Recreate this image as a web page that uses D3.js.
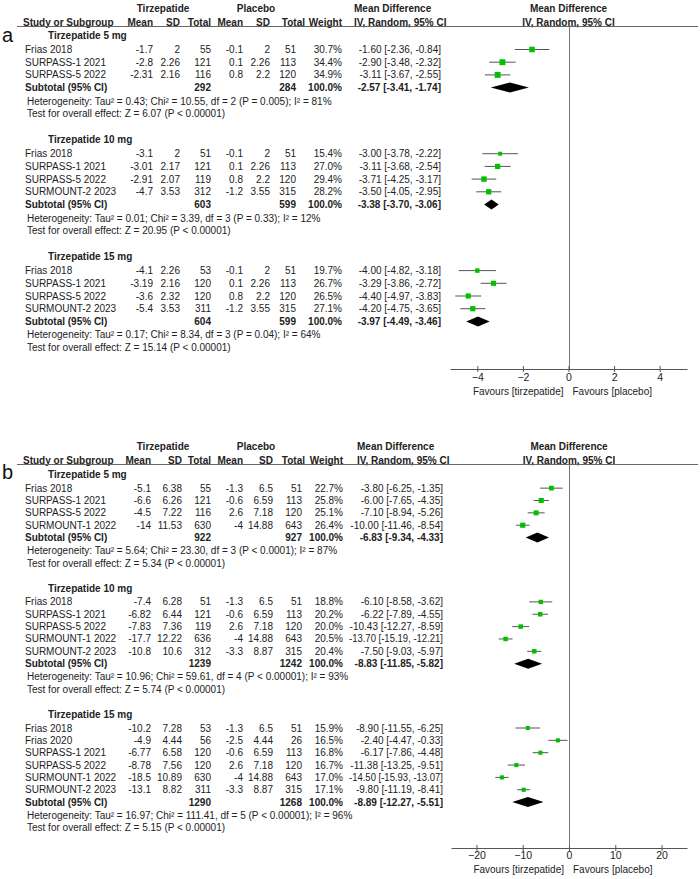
<!DOCTYPE html>
<html lang="en">
<head>
<meta charset="utf-8">
<style>
  body { margin: 0; background: #fff; }
  svg { display: block; font-family: "Liberation Sans", Arial, sans-serif; }
</style>
</head>
<body>
<div id="chart"></div>
<script src="https://cdn.jsdelivr.net/npm/d3@7/dist/d3.min.js"></script>
<script>
// ---- panel a ----
var groupsA = ['Tirzepatide 5 mg', 'Tirzepatide 10 mg', 'Tirzepatide 15 mg'];
var studyA = ['Frias 2018', 'SURPASS-1 2021', 'SURPASS-5 2022',
  'Frias 2018', 'SURPASS-1 2021', 'SURPASS-5 2022', 'SURMOUNT-2 2023',
  'Frias 2018', 'SURPASS-1 2021', 'SURPASS-5 2022', 'SURMOUNT-2 2023'];
var groupA = [0, 0, 0, 1, 1, 1, 1, 2, 2, 2, 2];
var tMeanA = [-1.7, -2.8, -2.31, -3.1, -3.01, -2.91, -4.7, -4.1, -3.19, -3.6, -5.4];
var tSdA = [2, 2.26, 2.16, 2, 2.17, 2.07, 3.53, 2.26, 2.16, 2.32, 3.53];
var tNA = [55, 121, 116, 51, 121, 119, 312, 53, 120, 120, 311];
var pMeanA = [-0.1, 0.1, 0.8, -0.1, 0.1, 0.8, -1.2, -0.1, 0.1, 0.8, -1.2];
var pSdA = [2, 2.26, 2.2, 2, 2.26, 2.2, 3.55, 2, 2.26, 2.2, 3.55];
var pNA = [51, 113, 120, 51, 113, 120, 315, 51, 113, 120, 315];
var weightA = [30.7, 34.4, 34.9, 15.4, 27.0, 29.4, 28.2, 19.7, 26.7, 26.5, 27.1];
var mdA = [-1.60, -2.90, -3.11, -3.00, -3.11, -3.71, -3.50, -4.00, -3.29, -4.40, -4.20];
var loA = [-2.36, -3.48, -3.67, -3.78, -3.68, -4.25, -4.05, -4.82, -3.86, -4.97, -4.75];
var hiA = [-0.84, -2.32, -2.55, -2.22, -2.54, -3.17, -2.95, -3.18, -2.72, -3.83, -3.65];
var subTNA = [292, 603, 604];
var subPNA = [284, 599, 599];
var subMdA = [-2.57, -3.38, -3.97];
var subLoA = [-3.41, -3.70, -4.49];
var subHiA = [-1.74, -3.06, -3.46];
var hetA = ['Heterogeneity: Tau² = 0.43; Chi² = 10.55, df = 2 (P = 0.005); I² = 81%',
  'Heterogeneity: Tau² = 0.01; Chi² = 3.39, df = 3 (P = 0.33); I² = 12%',
  'Heterogeneity: Tau² = 0.17; Chi² = 8.34, df = 3 (P = 0.04); I² = 64%'];
var testA = ['Test for overall effect: Z = 6.07 (P < 0.00001)',
  'Test for overall effect: Z = 20.95 (P < 0.00001)',
  'Test for overall effect: Z = 15.14 (P < 0.00001)'];
var ticksA = [-4, -2, 0, 2, 4];

// ---- panel b ----
var groupsB = ['Tirzepatide 5 mg', 'Tirzepatide 10 mg', 'Tirzepatide 15 mg'];
var studyB = ['Frias 2018', 'SURPASS-1 2021', 'SURPASS-5 2022', 'SURMOUNT-1 2022',
  'Frias 2018', 'SURPASS-1 2021', 'SURPASS-5 2022', 'SURMOUNT-1 2022', 'SURMOUNT-2 2023',
  'Frias 2018', 'Frias 2020', 'SURPASS-1 2021', 'SURPASS-5 2022', 'SURMOUNT-1 2022', 'SURMOUNT-2 2023'];
var groupB = [0, 0, 0, 0, 1, 1, 1, 1, 1, 2, 2, 2, 2, 2, 2];
var tMeanB = [-5.1, -6.6, -4.5, -14, -7.4, -6.82, -7.83, -17.7, -10.8, -10.2, -4.9, -6.77, -8.78, -18.5, -13.1];
var tSdB = [6.38, 6.26, 7.22, 11.53, 6.28, 6.44, 7.36, 12.22, 10.6, 7.28, 4.44, 6.58, 7.56, 10.89, 8.82];
var tNB = [55, 121, 116, 630, 51, 121, 119, 636, 312, 53, 56, 120, 120, 630, 311];
var pMeanB = [-1.3, -0.6, 2.6, -4, -1.3, -0.6, 2.6, -4, -3.3, -1.3, -2.5, -0.6, 2.6, -4, -3.3];
var pSdB = [6.5, 6.59, 7.18, 14.88, 6.5, 6.59, 7.18, 14.88, 8.87, 6.5, 4.44, 6.59, 7.18, 14.88, 8.87];
var pNB = [51, 113, 120, 643, 51, 113, 120, 643, 315, 51, 26, 113, 120, 643, 315];
var weightB = [22.7, 25.8, 25.1, 26.4, 18.8, 20.2, 20.0, 20.5, 20.4, 15.9, 16.5, 16.8, 16.7, 17.0, 17.1];
var mdB = [-3.80, -6.00, -7.10, -10.00, -6.10, -6.22, -10.43, -13.70, -7.50, -8.90, -2.40, -6.17, -11.38, -14.50, -9.80];
var loB = [-6.25, -7.65, -8.94, -11.46, -8.58, -7.89, -12.27, -15.19, -9.03, -11.55, -4.47, -7.86, -13.25, -15.93, -11.19];
var hiB = [-1.35, -4.35, -5.26, -8.54, -3.62, -4.55, -8.59, -12.21, -5.97, -6.25, -0.33, -4.48, -9.51, -13.07, -8.41];
var subTNB = [922, 1239, 1290];
var subPNB = [927, 1242, 1268];
var subMdB = [-6.83, -8.83, -8.89];
var subLoB = [-9.34, -11.85, -12.27];
var subHiB = [-4.33, -5.82, -5.51];
var hetB = ['Heterogeneity: Tau² = 5.64; Chi² = 23.30, df = 3 (P < 0.0001); I² = 87%',
  'Heterogeneity: Tau² = 10.96; Chi² = 59.61, df = 4 (P < 0.00001); I² = 93%',
  'Heterogeneity: Tau² = 16.97; Chi² = 111.41, df = 5 (P < 0.00001); I² = 96%'];
var testB = ['Test for overall effect: Z = 5.34 (P < 0.00001)',
  'Test for overall effect: Z = 5.74 (P < 0.00001)',
  'Test for overall effect: Z = 5.15 (P < 0.00001)'];
var ticksB = [-20, -10, 0, 10, 20];

var W = 700, H = 879;
var FS = 10;
var TXT = '#222';

var svg = d3.select('#chart').append('svg')
    .attr('width', W)
    .attr('height', H);

function fmt2(v) { return v.toFixed(2); }
function ci(m, l, h) { return fmt2(m) + ' [' + fmt2(l) + ', ' + fmt2(h) + ']'; }

function drawPanel(p) {
  var g = svg.append('g');
  var cols = p.cols;

  function txt(x, y, s, anchor, bold) {
    return g.append('text')
      .attr('x', x).attr('y', y).attr('dy', '0.35em')
      .attr('text-anchor', anchor || 'start')
      .attr('font-size', FS)
      .attr('font-weight', bold ? 'bold' : 'normal')
      .attr('fill', TXT)
      .text(s);
  }

  // CI column text, squeezed a little when it would run into the weight column
  var ciMax = p.ciR - cols[6] - 6;
  function ciTxt(y, s, bold) {
    var t = txt(p.ciR, y, s, 'end', bold);
    var len = t.node().getComputedTextLength();
    if (len > ciMax) t.attr('textLength', ciMax).attr('lengthAdjust', 'spacingAndGlyphs');
  }

  var x = d3.scaleLinear().domain(p.domain).range([p.plotL, p.plotR]);

  // panel letter
  g.append('text').attr('x', 2).attr('y', p.letterY).attr('dy', '0.35em')
    .attr('font-size', 20).attr('fill', '#111').text(p.letter);

  // column headers
  txt(163, p.hdr1Y, 'Tirzepatide', 'middle', true);
  txt(256, p.hdr1Y, 'Placebo', 'middle', true);
  txt(p.ciL, p.hdr1Y, 'Mean Difference', 'start', true);
  txt(x(0), p.hdr1Y, 'Mean Difference', 'middle', true);
  txt(23, p.hdr2Y, 'Study or Subgroup', 'start', true);
  var hdrs = ['Mean', 'SD', 'Total', 'Mean', 'SD', 'Total', 'Weight'];
  hdrs.forEach(function (h, i) { txt(p.hcols[i], p.hdr2Y, h, 'end', true); });
  txt(p.ciL, p.hdr2Y, 'IV, Random, 95% CI', 'start', true);
  txt(x(0), p.hdr2Y, 'IV, Random, 95% CI', 'middle', true);
  g.append('line').attr('x1', 17).attr('x2', 698)
    .attr('y1', p.lineY).attr('y2', p.lineY)
    .attr('stroke', '#666').attr('stroke-width', 1);

  // zero line
  g.append('line').attr('x1', Math.round(x(0)) + 0.5).attr('x2', Math.round(x(0)) + 0.5)
    .attr('y1', p.lineY).attr('y2', p.axisY)
    .attr('stroke', '#777').attr('stroke-width', 1);

  var y = p.startY, h = p.h;
  p.groups.forEach(function (gname, gi) {
    txt(48, y, gname, 'start', true);
    y += h + 1.3;
    p.study.forEach(function (s, i) {
      if (p.group[i] !== gi) return;
      txt(25, y, s);
      var vals = [p.tMean[i], p.tSd[i], p.tN[i], p.pMean[i], p.pSd[i], p.pN[i]];
      vals.forEach(function (v, k) { txt(cols[k], y, String(v), 'end'); });
      txt(cols[6], y, p.weight[i].toFixed(1) + '%', 'end');
      ciTxt(y, ci(p.md[i], p.lo[i], p.hi[i]), false);
      g.append('line').attr('x1', x(p.lo[i])).attr('x2', x(p.hi[i]))
        .attr('y1', y).attr('y2', y)
        .attr('stroke', '#555').attr('stroke-width', 1);
      var side = Math.sqrt(p.weight[i]);
      g.append('rect').attr('x', x(p.md[i]) - side / 2).attr('y', y - side / 2)
        .attr('width', side).attr('height', side)
        .attr('fill', '#00c000');
      y += h;
    });
    txt(25, y, 'Subtotal (95% CI)', 'start', true);
    txt(cols[2], y, String(p.subTN[gi]), 'end', true);
    txt(cols[5], y, String(p.subPN[gi]), 'end', true);
    txt(cols[6], y, '100.0%', 'end', true);
    ciTxt(y, ci(p.subMd[gi], p.subLo[gi], p.subHi[gi]), true);
    var dh = 5;
    g.append('path')
      .attr('d', 'M' + x(p.subLo[gi]) + ',' + y + 'L' + x(p.subMd[gi]) + ',' + (y - dh) +
        'L' + x(p.subHi[gi]) + ',' + y + 'L' + x(p.subMd[gi]) + ',' + (y + dh) + 'Z')
      .attr('fill', '#000');
    y += h + 0.8;
    txt(27, y, p.het[gi]);
    y += h;
    txt(27, y, p.test[gi]);
    y += 2 * h + 0.5;
  });

  // axis
  var ax = g.append('g').attr('transform', 'translate(0,' + p.axisY + ')')
    .call(d3.axisBottom(x).tickValues(p.ticks).tickSizeOuter(0).tickSizeInner(3).tickPadding(p.tickPad));
  ax.select('.domain').attr('stroke', '#555');
  ax.selectAll('.tick line').attr('stroke', '#555').attr('y1', -3).attr('y2', 3);
  ax.selectAll('.tick text').attr('font-size', 10.5).attr('fill', TXT)
    .attr('font-family', '"Liberation Sans", Arial, sans-serif');

  txt(x(0) - 5, p.favY, 'Favours [tirzepatide]', 'end');
  txt(x(0) + 4, p.favY, 'Favours [placebo]', 'start');
}

drawPanel({
  letter: 'a', letterY: 35,
  hdr1Y: 8.5, hdr2Y: 22.5, lineY: 26.5,
  startY: 35.5, h: 12.7,
  cols: [153, 180, 211, 243, 270, 296, 342],
  hcols: [153, 180, 211, 243, 270, 305, 342],
  ciL: 354, ciR: 441,
  domain: [-5.2, 5.2], plotL: 450, plotR: 687,
  axisY: 369, favY: 391, tickPad: 2,
  ticks: ticksA,
  groups: groupsA, study: studyA, group: groupA,
  tMean: tMeanA, tSd: tSdA, tN: tNA, pMean: pMeanA, pSd: pSdA, pN: pNA,
  weight: weightA, md: mdA, lo: loA, hi: hiA,
  subTN: subTNA, subPN: subPNA, subMd: subMdA, subLo: subLoA, subHi: subHiA,
  het: hetA, test: testA
});

drawPanel({
  letter: 'b', letterY: 472,
  hdr1Y: 446, hdr2Y: 460.5, lineY: 464.5,
  startY: 474.5, h: 12.35,
  cols: [151, 182, 211, 243, 273, 302, 343],
  hcols: [151, 182, 211, 243, 273, 305, 343],
  ciL: 357, ciR: 443,
  domain: [-25.5, 25.5], plotL: 451, plotR: 687,
  axisY: 848, favY: 869, tickPad: 1,
  ticks: ticksB,
  groups: groupsB, study: studyB, group: groupB,
  tMean: tMeanB, tSd: tSdB, tN: tNB, pMean: pMeanB, pSd: pSdB, pN: pNB,
  weight: weightB, md: mdB, lo: loB, hi: hiB,
  subTN: subTNB, subPN: subPNB, subMd: subMdB, subLo: subLoB, subHi: subHiB,
  het: hetB, test: testB
});
</script>
</body>
</html>
